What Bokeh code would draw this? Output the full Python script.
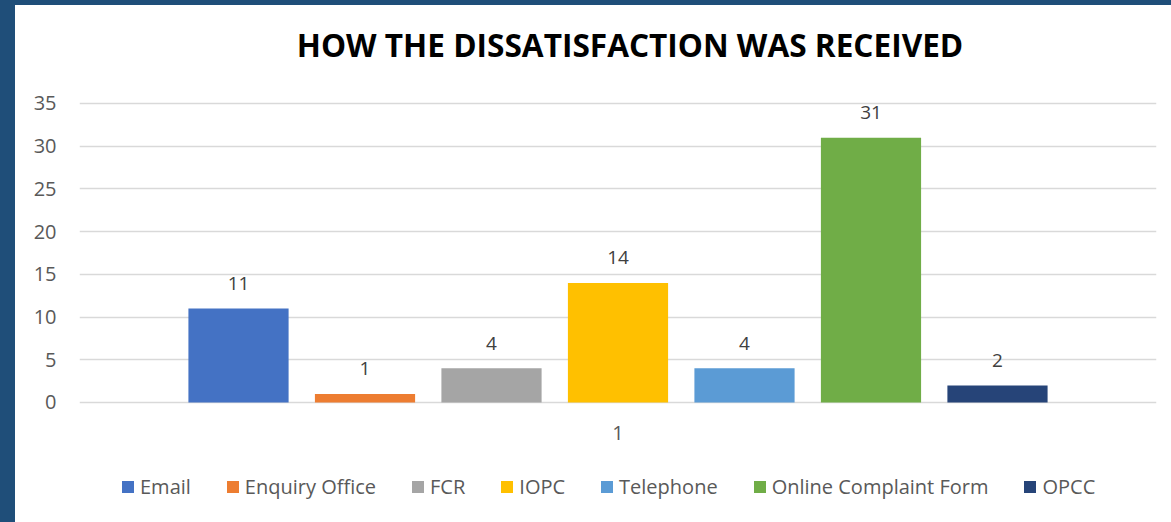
from bokeh.plotting import figure
from bokeh.models import (ColumnDataSource, FixedTicker, Legend, LegendItem, Range1d)
from bokeh.embed import file_html
from bokeh.resources import INLINE
from bokeh.core.properties import value

# ---- data ----
series_names = ["Email", "Enquiry Office", "FCR", "IOPC", "Telephone", "Online Complaint Form", "OPCC"]
series_values = [11, 1, 4, 14, 4, 31, 2]
series_colors = ["#4472C4", "#ED7D31", "#A5A5A5", "#FFC000", "#5B9BD5", "#70AD47", "#264478"]
category_label = ["1"]
y_ticks = [0, 5, 10, 15, 20, 25, 30, 35]
title_text = ["HOW THE DISSATISFACTION WAS RECEIVED"]

FONT = "Open Sans"
FRAME_BLUE = "#1F4E79"
n = len(series_names)
xs = list(range(n))
center = (n - 1) / 2

p = figure(width=1171, height=522, output_backend="svg", toolbar_location=None,
           x_axis_location=None,
           x_range=Range1d(-1.257, n - 1 + 1.257), y_range=Range1d(-14.047, 46.471),
           min_border_left=79, min_border_right=15, min_border_top=5, min_border_bottom=0)
p.styles = {"background": (f"linear-gradient({FRAME_BLUE}, {FRAME_BLUE}) 0 0 / 100% 5px no-repeat, "
                           f"linear-gradient({FRAME_BLUE}, {FRAME_BLUE}) 0 0 / 15px 100% no-repeat, white")}
p.outline_line_color = None
p.background_fill_color = "white"
p.border_fill_color = None

# title (drawn above the top tick)
p.text(x=[center], y=[max(y_ticks)], text=title_text, text_align="center",
       text_baseline="alphabetic", x_offset=12, y_offset=-59,
       text_font=value(FONT), text_font_style="bold", text_font_size="31.6px", text_color="#000000")

# bars
items = []
for i in range(n):
    src = ColumnDataSource(dict(x=[xs[i]], top=[series_values[i]], lbl=[str(series_values[i])]))
    r = p.vbar(x="x", top="top", width=0.792, bottom=0, source=src,
               fill_color=series_colors[i], line_color=None)
    p.text(x="x", y="top", text="lbl", source=src, text_align="center", text_baseline="alphabetic",
           y_offset=-25, text_font=value(FONT), text_font_size="19px", text_color="#404040")
    items.append(LegendItem(label=series_names[i], renderers=[r]))

# category label under the group
p.text(x=[center], y=[0], text=category_label, text_align="center", text_baseline="middle",
       y_offset=31, text_font=value(FONT), text_font_size="20px", text_color="#595959")

# y axis
p.yaxis.ticker = FixedTicker(ticks=y_ticks)
p.yaxis.axis_line_color = None
p.yaxis.major_tick_line_color = None
p.yaxis.minor_tick_line_color = None
p.yaxis.major_label_standoff = 17
p.yaxis.major_label_text_font = FONT
p.yaxis.major_label_text_font_size = "20px"
p.yaxis.major_label_text_color = "#595959"

p.xgrid.grid_line_color = None
p.ygrid.grid_line_color = "#D9D9D9"
p.ygrid.grid_line_width = 1.5
p.ygrid.ticker = FixedTicker(ticks=y_ticks)

legend = Legend(items=items, orientation="horizontal", location=(41, 22),
                label_text_font=FONT, label_text_font_size="20px", label_text_color="#595959",
                glyph_width=15, glyph_height=15, label_standoff=5, spacing=34, label_height=20,
                margin=0, padding=0, border_line_color=None, background_fill_alpha=0)
p.add_layout(legend, "center")

open("out.html", "w").write(file_html(p, INLINE))
